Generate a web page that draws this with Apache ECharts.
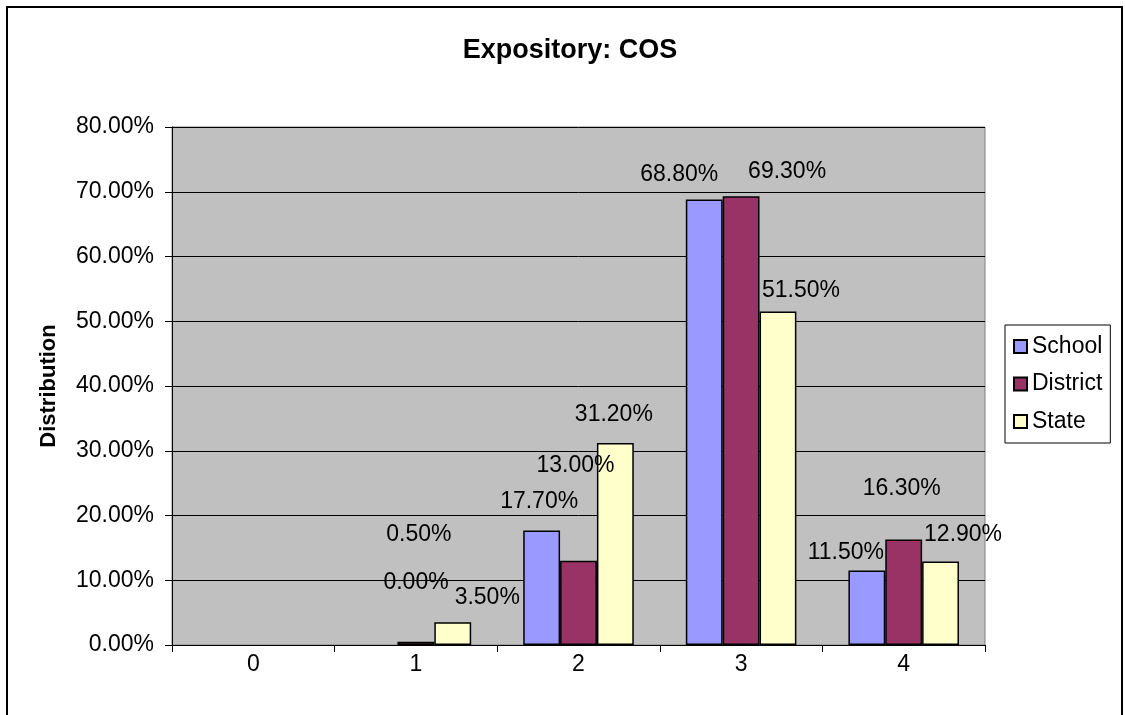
<!DOCTYPE html>
<html>
<head>
<meta charset="utf-8">
<script src="https://cdn.jsdelivr.net/npm/echarts@6/dist/echarts.min.js"></script>
<style>
  html, body { margin: 0; padding: 0; background: #fff; }
  #chart { width: 1125px; height: 715px; }
</style>
</head>
<body>
<div id="chart"></div>
<script>
// ---- data ----
var categories = ['0', '1', '2', '3', '4'];
var seriesNames = ['School', 'District', 'State'];
var schoolValues = [null, 0.0, 17.7, 68.8, 11.5];
var districtValues = [null, 0.5, 13.0, 69.3, 16.3];
var stateValues = [null, 3.5, 31.2, 51.5, 12.9];
var yTickValues = [0, 10, 20, 30, 40, 50, 60, 70, 80];

// ---- styling (label nudges replicate the hand-placed labels) ----
var colors = ['#9999FF', '#993366', '#FFFFCC'];
var labelNudges = [
  [null, [37, -50.5], [-2.5, -17], [-25, -13.5], [-21, -6.5]],
  [null, [3, -95.5], [-3, -83.5], [46, -13], [-2, -39.5]],
  [null, [34.5, -13.5], [-1.5, -17], [23, -9.5], [22.5, -15]]
];
var FONT = 'Liberation Sans, Arial, sans-serif';

function buildSeries(name, values, idx) {
  return {
    name: name,
    type: 'bar',
    barGap: '0%',
    barCategoryGap: '32%',
    itemStyle: { color: colors[idx], borderColor: '#000', borderWidth: 1.5 },
    data: values.map(function (v, i) {
      if (v === null) return '-';
      var item = {
        value: v,
        label: {
          show: true,
          position: 'top',
          distance: 0,
          offset: labelNudges[idx][i],
          formatter: function (p) { return p.value.toFixed(2) + '%'; },
          color: '#000',
          fontFamily: FONT,
          fontSize: 23
        }
      };
      if (v === 0) item.itemStyle = { borderWidth: 0, color: 'rgba(0,0,0,0)', borderColor: 'rgba(0,0,0,0)' };
      return item;
    })
  };
}

var chart = echarts.init(document.getElementById('chart'), null, { renderer: 'canvas' });
chart.setOption({
  animation: false,
  backgroundColor: '#fff',
  title: {
    text: 'Expository: COS',
    left: 565,
    textAlign: 'center',
    top: 32,
    textStyle: { fontFamily: FONT, fontWeight: 'bold', fontSize: 27, color: '#000' }
  },
  legend: {
    orient: 'vertical',
    left: 1005,
    top: 325,
    padding: [10, 8, 10, 8],
    itemGap: 14.5,
    itemWidth: 13,
    itemHeight: 13,
    icon: 'rect',
    backgroundColor: '#fff',
    borderColor: '#000',
    borderWidth: 1,
    textStyle: { fontFamily: FONT, fontSize: 23, color: '#000' },
    data: seriesNames
  },
  grid: {
    left: 172, top: 127, width: 813, height: 518,
    show: true, backgroundColor: '#C0C0C0', borderColor: '#808080', borderWidth: 1
  },
  xAxis: {
    type: 'category',
    data: categories,
    boundaryGap: true,
    axisLine: { lineStyle: { color: '#000', width: 1 } },
    axisTick: { show: true, length: 7, alignWithLabel: false, lineStyle: { color: '#000' } },
    axisLabel: { margin: 8, color: '#000', fontFamily: FONT, fontSize: 23 }
  },
  yAxis: {
    type: 'value',
    min: yTickValues[0],
    max: yTickValues[yTickValues.length - 1],
    interval: yTickValues[1] - yTickValues[0],
    name: 'Distribution',
    nameLocation: 'middle',
    nameGap: 112,
    nameTextStyle: { fontFamily: FONT, fontWeight: 'bold', fontSize: 22, color: '#000' },
    axisLine: { show: true, lineStyle: { color: '#000', width: 1 } },
    axisTick: { show: true, length: 7, lineStyle: { color: '#000' } },
    axisLabel: {
      margin: 18, color: '#000', fontFamily: FONT, fontSize: 23,
      formatter: function (v) { return v.toFixed(2) + '%'; }
    },
    splitLine: { show: true, lineStyle: { color: '#000', width: 1 } }
  },
  series: [
    buildSeries(seriesNames[0], schoolValues, 0),
    buildSeries(seriesNames[1], districtValues, 1),
    buildSeries(seriesNames[2], stateValues, 2)
  ],
  graphic: [{
    type: 'rect',
    shape: { x: 7, y: 7, width: 1115, height: 712 },
    style: { fill: 'none', stroke: '#000', lineWidth: 2 },
    silent: true,
    z: 100
  }]
});
</script>
</body>
</html>
